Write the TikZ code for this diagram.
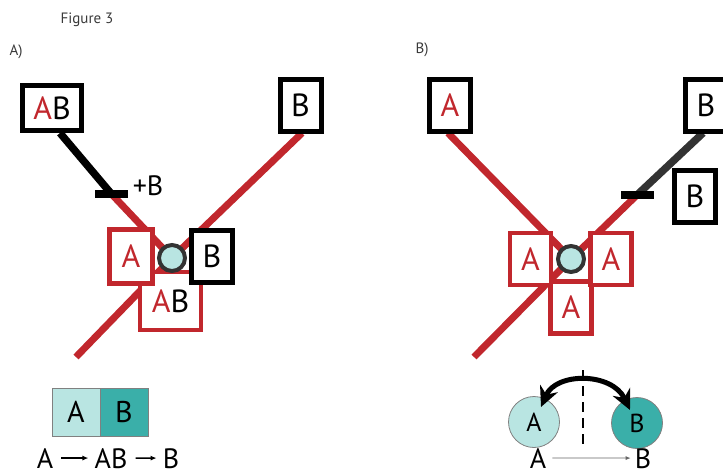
\documentclass[tikz,border=0pt]{standalone}
\usepackage{fontspec}
\setmainfont{PT Sans}
\usetikzlibrary{arrows.meta,backgrounds}
\definecolor{cutred}{HTML}{C1272D}
\definecolor{paleteal}{HTML}{B9E5E2}
\definecolor{darkteal}{HTML}{3AAFA9}
\definecolor{ringgray}{HTML}{333333}
\definecolor{labgray}{HTML}{3A3A3A}

\begin{document}
\begin{tikzpicture}[x=1pt,y=-1pt,
  lbl/.style={text=labgray, font=\fontsize{15}{17}\selectfont},
  blkbox/.style={draw=black, line width=5pt, fill=white, inner sep=0pt, minimum width=41pt, minimum height=52pt, font=\fontsize{32}{34}\selectfont},
  redbox/.style={blkbox, draw=cutred, line width=4.5pt, text=cutred},
  hub/.style={circle, draw=ringgray, line width=4pt, fill=paleteal, inner sep=0pt, minimum size=26pt},
  bar/.style={fill=black, inner sep=0pt, minimum width=33pt, minimum height=8pt},
  redline/.style={draw=cutred, line width=7pt},
  blkline/.style={draw=black, line width=7.5pt},
  cell/.style={draw=gray, line width=0.8pt, inner sep=0pt, minimum size=48pt, font=\fontsize{30}{32}\selectfont},
  key/.style={inner sep=0pt, text depth=0pt, anchor=base, font=\fontsize{28}{30}\selectfont},
  keyarrow/.style={-{Latex[length=6pt,width=5pt]}, line width=1.4pt, shorten <=8pt, shorten >=6pt},
  ball/.style={circle, draw=gray, line width=0.8pt, minimum size=51pt, inner sep=0pt, font=\fontsize{26}{28}\selectfont},
]
\useasboundingbox (0,0) rectangle (723,475);
\clip (0,0) rectangle (723,475);

\node[lbl] (fig) at (87,20) {Figure 3};

% A)
\begin{scope}
\node[lbl] (la) at (16,52) {A)};
\node[blkbox, minimum width=59pt, minimum height=45pt] (aABtop) at (52,108) {{\color{cutred}A}B};
\node[blkbox] (aBtop) at (300.5,105.5) {B};
\node[redbox, minimum width=61pt, minimum height=58pt] (aABlow) at (170.5,301) {{\color{cutred}A}{\color{black}B}};
\node[redbox, minimum width=43pt, minimum height=54pt] (aA) at (131,256.5) {A};
\node[blkbox] (aB) at (212,256.5) {B};
\node[hub] (aHub) at (172,258) {};
\node[bar] (aBar) at (111.5,194) {};
\node[font=\fontsize{28}{30}\selectfont, inner sep=0pt] (plusB) at (148,186) {+B};
\coordinate (aEnd) at (76,357);
\begin{scope}[on background layer]
\path[blkline] (60,133) -- (aBar.center);
\path[redline] (aBar.center) -- (aHub.center);
\path[redline] (302,133) -- (aHub.center) -- (aEnd);
\end{scope}
\node[cell, fill=paleteal] (cellA) at (76,412) {A};
\node[cell, fill=darkteal] (cellB) at (124,412) {B};
\node[key] (kA) at (45,468) {A};
\node[key] (kAB) at (111,468) {AB};
\node[key] (kB) at (171,468) {B};
\draw[keyarrow] (kA) -- (kAB);
\draw[keyarrow] (kAB) -- (kB);
\end{scope}

% B)
\begin{scope}
\node[lbl] (lb) at (422,50) {B)};
\node[blkbox, text=cutred] (bAtop) at (450,105.5) {A};
\node[blkbox] (bBtop) at (706,105) {B};
\node[blkbox] (bBmid) at (695,196.5) {B};
\node[redbox] (bAlow) at (571,307.5) {A};
\node[redbox] (bAl) at (530.5,259) {A};
\node[redbox] (bAr) at (611,259) {A};
\node[hub] (bHub) at (571,259) {};
\node[bar] (bBar) at (637.5,194.5) {};
\coordinate (bEnd) at (474,357);
\begin{scope}[on background layer]
\path[redline] (448,133) -- (bHub.center);
\path[blkline, draw=ringgray] (703,133) -- (bBar.center);
\path[redline] (bBar.center) -- (bHub.center) -- (bEnd);
\end{scope}
\coordinate (dashTop) at (583,370);
\coordinate (dashBot) at (583,448);
\draw[line width=1.5pt, dash pattern=on 10pt off 6pt] (dashTop) -- (dashBot);
\node[ball, fill=paleteal] (cA) at (534,422) {A};
\node[ball, fill=darkteal] (cB) at (637,423) {B};
\coordinate (tipA) at (541,407);
\coordinate (tipB) at (630,410);
\draw[line width=5pt, {Stealth[length=20pt,width=19pt]}-{Stealth[length=20pt,width=19pt]}] (tipA) .. controls (556,372) and (612,372) .. (tipB);
\node[key] (mA) at (538,468) {A};
\node[key] (mB) at (643,468) {B};
\draw[-{Latex[length=5pt,width=4pt]}, line width=0.8pt, draw=gray!80!black, shorten <=6pt, shorten >=4pt] (mA) -- (mB);
\end{scope}
\end{tikzpicture}
\end{document}
